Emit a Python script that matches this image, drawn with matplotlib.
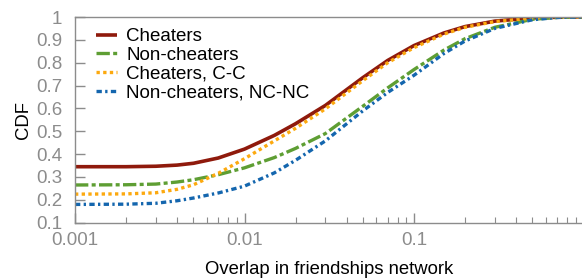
import matplotlib
matplotlib.use("Agg")
import matplotlib.pyplot as plt
from matplotlib.ticker import FixedLocator, NullFormatter

plt.rcParams['font.family'] = ['Liberation Sans', 'DejaVu Sans']

# overlap values (x) and CDF values
overlap = [0.001, 0.002, 0.003, 0.004, 0.005, 0.007, 0.01, 0.015, 0.02, 0.03,
           0.05, 0.07, 0.1, 0.15, 0.2, 0.3, 0.5, 0.7, 1.0]
cheaters = [0.345, 0.345, 0.347, 0.352, 0.360, 0.383, 0.422, 0.482, 0.533, 0.613,
            0.735, 0.810, 0.875, 0.930, 0.958, 0.982, 0.996, 0.999, 1.0]
non_cheaters = [0.265, 0.266, 0.269, 0.278, 0.288, 0.310, 0.340, 0.385, 0.425, 0.490,
                0.610, 0.690, 0.770, 0.855, 0.905, 0.955, 0.990, 0.998, 1.0]
cheaters_cc = [0.225, 0.226, 0.231, 0.246, 0.266, 0.316, 0.380, 0.458, 0.513, 0.598,
               0.722, 0.800, 0.866, 0.925, 0.955, 0.980, 0.995, 0.999, 1.0]
non_cheaters_ncnc = [0.180, 0.181, 0.185, 0.196, 0.208, 0.230, 0.260, 0.318, 0.373, 0.458,
                     0.590, 0.670, 0.745, 0.840, 0.895, 0.950, 0.988, 0.998, 1.0]

labels = ["Cheaters", "Non-cheaters", "Cheaters, C-C", "Non-cheaters, NC-NC"]
xticks = [0.001, 0.01, 0.1]
xtick_labels = ["0.001", "0.01", "0.1"]
yticks = [0.1, 0.2, 0.3, 0.4, 0.5, 0.6, 0.7, 0.8, 0.9, 1.0]
ytick_labels = ["0.1", "0.2", "0.3", "0.4", "0.5", "0.6", "0.7", "0.8", "0.9", "1"]

gray = "#8c8c8c"

fig = plt.figure(figsize=(5.82, 2.79), dpi=100)
ax = fig.add_axes([75 / 582, 1 - 222.7 / 279, 508.5 / 582, 205.7 / 279])

ax.plot(overlap, cheaters, color="#8f1a0c", lw=2.6, solid_capstyle="butt", label=labels[0])
ax.plot(overlap, non_cheaters, color="#5e9e33", lw=2.4, linestyle=(0, (4, 1, 1.2, 1)),
        label=labels[1])
ax.plot(overlap, cheaters_cc, color="#fca90f", lw=2.4, linestyle=(0, (1, 1)),
        label=labels[2])
ax.plot(overlap, non_cheaters_ncnc, color="#1466ae", lw=2.4, linestyle=(0, (1.6, 1, 0.7, 1)),
        label=labels[3])

ax.set_xscale("log")
ax.set_xlim(0.001, 1.0)
ax.set_ylim(0.1, 1.0)

ax.set_xticks(xticks)
ax.set_xticklabels(xtick_labels)
minors = [m * d for d in (0.001, 0.01, 0.1) for m in range(2, 10)]
ax.xaxis.set_minor_locator(FixedLocator(minors))
ax.xaxis.set_minor_formatter(NullFormatter())
ax.set_yticks(yticks)
ax.set_yticklabels(ytick_labels)

ax.tick_params(axis="both", which="major", direction="in", length=7, width=1,
               color=gray, labelcolor=gray, labelsize=13.5)
ax.tick_params(axis="y", which="major", pad=9)
ax.tick_params(axis="x", which="major", pad=7)
ax.tick_params(axis="x", which="minor", direction="in", length=4, width=0.8, color=gray)
ax.tick_params(top=False, right=False, which="both")

for s in ax.spines.values():
    s.set_color(gray)
    s.set_linewidth(1)

ax.set_xlabel("Overlap in friendships network", fontsize=13.3, labelpad=8)
ax.set_ylabel("CDF", fontsize=13.3, labelpad=3)

ax.legend(loc="upper left", frameon=False, fontsize=13.5, handlelength=1.1,
          handletextpad=0.5, labelspacing=0.08, borderaxespad=0.2,
          bbox_to_anchor=(0.02, 1.0))

fig.savefig("out.png", dpi=100)
